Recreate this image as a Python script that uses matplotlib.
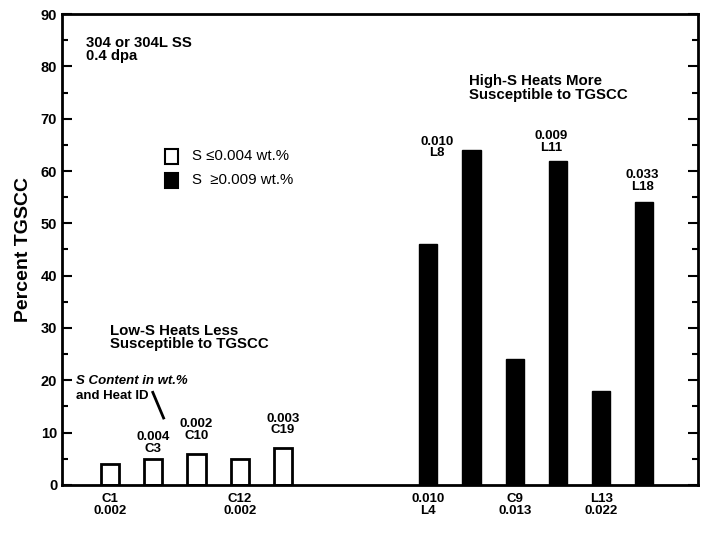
import matplotlib.pyplot as plt
from matplotlib.patches import Rectangle

plt.rcParams['font.family'] = ['Liberation Sans', 'DejaVu Sans']
plt.rcParams['font.weight'] = 'bold'

# low-S heats (open bars)
low_ids = ['C1', 'C3', 'C10', 'C12', 'C19']
low_s = ['0.002', '0.004', '0.002', '0.002', '0.003']
low_x = [1.0, 2.0, 3.0, 4.0, 5.0]
low_pct = [4, 5, 6, 5, 7]

# high-S heats (filled bars)
high_ids = ['L4', 'L8', 'C9', 'L11', 'L13', 'L18']
high_s = ['0.010', '0.010', '0.013', '0.009', '0.022', '0.033']
high_x = [8.36, 9.36, 10.36, 11.36, 12.36, 13.36]
high_pct = [46, 64, 24, 62, 18, 54]

fig = plt.figure(figsize=(7.06, 5.33), dpi=100)
ax = fig.add_axes([0.0878, 0.0901, 0.9009, 0.8836])

w = 0.42
ax.bar(low_x, low_pct, width=w, color='white', edgecolor='black', linewidth=2)
ax.bar(high_x, high_pct, width=w, color='black', edgecolor='black', linewidth=1)

ax.set_xlim(-0.11, 14.6)
ax.set_ylim(0, 90)
ax.set_yticks(range(0, 91, 10))
ax.set_yticks(range(5, 90, 10), minor=True)
ax.tick_params(axis='y', which='both', direction='in', right=True, length=7, width=1.5, labelsize=10.5)
ax.tick_params(axis='y', which='minor', length=4)
for lab in ax.get_yticklabels():
    lab.set_fontweight('bold')
for s in ax.spines.values():
    s.set_linewidth(2)

# heats labelled under the axis
below = [0, 3]
ax.set_xticks([low_x[i] for i in below] + [high_x[0], high_x[2], high_x[4]])
ax.set_xticklabels([f'{low_ids[i]}\n{low_s[i]}' for i in below] +
                   [f'{high_s[0]}\n{high_ids[0]}', f'{high_ids[2]}\n{high_s[2]}',
                    f'{high_ids[4]}\n{high_s[4]}'],
                   fontsize=9.5, fontweight='bold', linespacing=0.95)
ax.tick_params(axis='x', length=0, pad=6)

# heats labelled above the bars
kw = dict(ha='center', va='bottom', fontsize=9.5, fontweight='bold', linespacing=0.95)
for i in [1, 2, 4]:
    ax.text(low_x[i], low_pct[i] + 0.8 + (i > 1) * 1.5, f'{low_s[i]}\n{low_ids[i]}', **kw)
ax.text(high_x[1] - 0.8, 62.2, f'{high_s[1]}\n{high_ids[1]}', **kw)
ax.text(high_x[3] - 0.15, 63.3, f'{high_s[3]}\n{high_ids[3]}', **kw)
ax.text(high_x[5] - 0.05, 55.8, f'{high_s[5]}\n{high_ids[5]}', **kw)

ax.set_ylabel('Percent TGSCC', fontsize=14, fontweight='bold', labelpad=6)

ax.text(0.45, 85.8, '304 or 304L SS\n0.4 dpa', ha='left', va='top', fontsize=10.7,
        fontweight='bold', linespacing=0.95)
ax.text(9.3, 78.5, 'High-S Heats More\nSusceptible to TGSCC', ha='left', va='top',
        fontsize=10.8, fontweight='bold', linespacing=0.95)
ax.text(1.0, 30.8, 'Low-S Heats Less\nSusceptible to TGSCC', ha='left', va='top',
        fontsize=10.8, fontweight='bold', linespacing=0.95)
ax.text(0.22, 21.0, 'S Content in wt.%', ha='left', va='top', fontsize=9.5,
        fontweight='bold', style='italic')
ax.text(0.22, 18.1, 'and Heat ID', ha='left', va='top', fontsize=9.5, fontweight='bold')
ax.plot([1.99, 2.24], [17.7, 12.8], color='black', lw=2)

# legend drawn by hand
ax.add_patch(Rectangle((2.28, 61.3), 0.3, 3.0, facecolor='white', edgecolor='black', lw=1.5))
ax.add_patch(Rectangle((2.28, 56.7), 0.3, 3.0, facecolor='black', edgecolor='black', lw=1.5))
ax.text(2.9, 62.8, 'S \u22640.004 wt.%', va='center', fontsize=10.8, fontweight='normal')
ax.text(2.9, 58.2, 'S  \u22650.009 wt.%', va='center', fontsize=10.8, fontweight='normal')

fig.savefig('out.png', dpi=100)
